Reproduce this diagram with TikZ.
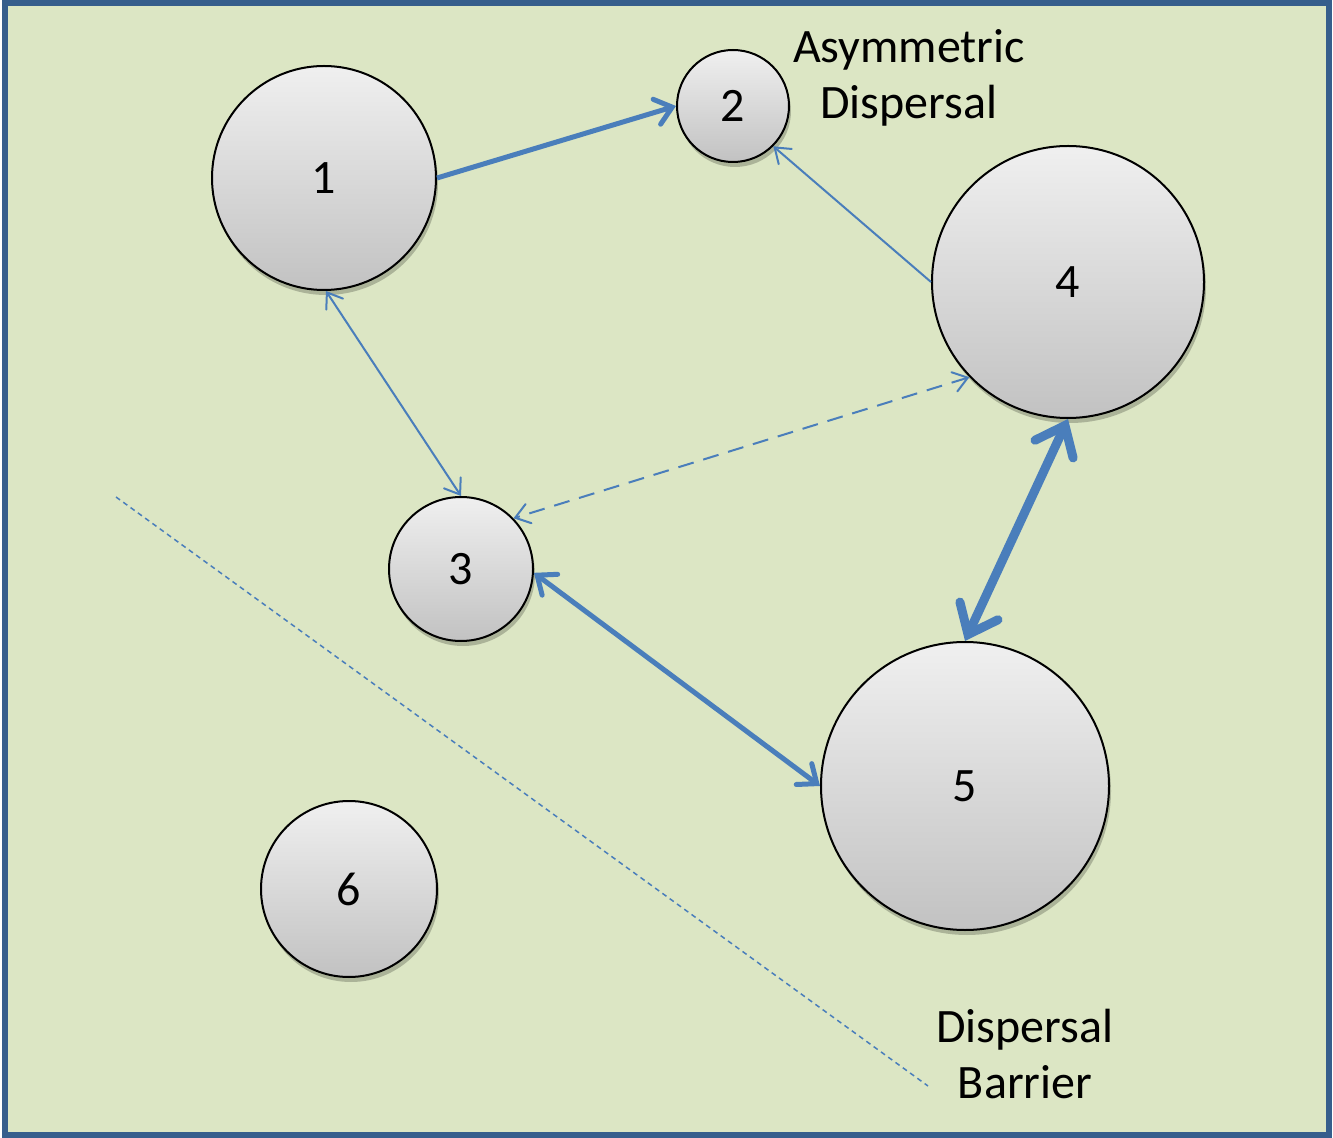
\documentclass[tikz,border=0pt]{standalone}
\usepackage{fontspec}
\setmainfont{Carlito}
\usetikzlibrary{arrows.meta,shadows}
\definecolor{field}{RGB}{220,230,196}
\definecolor{frame}{RGB}{54,94,140}
\definecolor{flow}{RGB}{74,126,187}
\tikzset{
  patch/.style={circle,draw=black,line width=1pt,inner sep=0pt,
    top color=gray!12,bottom color=gray!48,
    drop shadow={shadow xshift=1pt,shadow yshift=-2.5pt,opacity=0.22,fill=black},
    font=\fontsize{24}{28}\selectfont},
  thinlink/.style={draw=flow,line width=1pt,
    arrows={-Straight Barb[length=7pt,width=10pt,line cap=round]}},
  thinboth/.style={draw=flow,line width=1pt,
    arrows={Straight Barb[length=7pt,width=10pt,line cap=round]-Straight Barb[length=7pt,width=10pt,line cap=round]}},
  thicklink/.style={draw=flow,line width=2.5pt,
    arrows={-Straight Barb[length=8pt,width=13pt,line cap=round]}},
  thickboth/.style={draw=flow,line width=2.5pt,
    arrows={Straight Barb[length=8pt,width=13pt,line cap=round]-Straight Barb[length=8pt,width=13pt,line cap=round]}},
  heavyboth/.style={draw=flow,line width=4.5pt,
    arrows={Straight Barb[length=13pt,width=21pt,line cap=round]-Straight Barb[length=13pt,width=21pt,line cap=round]}},
  label/.style={font=\fontsize{24}{28}\selectfont,align=center}
}
\begin{document}
\begin{tikzpicture}[x=0.5pt,y=-0.5pt]
  % background field with frame
  \useasboundingbox (0,0) rectangle (1333,1138);
  \fill[white] (0,0) rectangle (1333,1138);
  \draw[frame,fill=field,line width=3pt] (5,3) rectangle (1329,1135);

  % dispersal barrier
  \coordinate (b1) at (116,497);
  \coordinate (b2) at (928,1086);
  \draw[flow,line width=0.75pt,dash pattern=on 2.5pt off 2pt] (b1) -- (b2);

  % habitat patches
  \node[patch,minimum size=112pt] (n1) at (324,178) {1};
  \node[patch,minimum size=56pt]  (n2) at (733,106) {2};
  \node[patch,minimum size=136pt] (n4) at (1068,282) {4};
  \node[patch,minimum size=72pt]  (n3) at (461,569) {3};
  \node[patch,minimum size=144pt] (n5) at (965,786) {5};
  \node[patch,minimum size=88pt]  (n6) at (349,889) {6};

  % dispersal links
  \draw[thicklink] (n1.east) -- (n2.west);
  \draw[thinlink] (n4.west) -- (n2.-45);
  \draw[thinboth] (n1.-89) -- (n3.north);
  \draw[thinboth,dash pattern=on 8pt off 5pt] (n4.224) -- (n3.44);
  \draw[thickboth] (n3.-3) -- (n5.west);
  \draw[heavyboth] (n4.south) -- (n5.north);

  % labels
  \node[label] (asym) at (909,78) {Asymmetric\\Dispersal};
  \node[label] (barrier) at (1025,1054) {Dispersal\\Barrier};
\end{tikzpicture}
\end{document}
